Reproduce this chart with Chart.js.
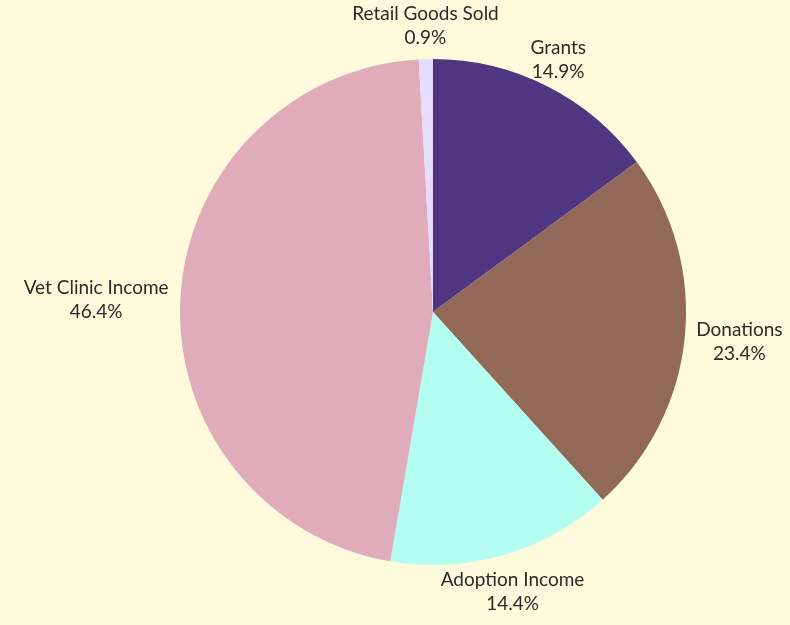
<!DOCTYPE html>
<html lang="en">
<head>
    <meta charset="UTF-8">
    <title>Income Sources</title>
    <script src="https://cdn.jsdelivr.net/npm/chart.js"></script>
    <style>
        html, body { margin: 0; padding: 0; background: #fffadc; }
        #wrap { width: 790px; height: 625px; }
    </style>
</head>
<body>
    <div id="wrap"><canvas id="incomeChart"></canvas></div>

    <script>
        const categories = ['Grants', 'Donations', 'Adoption Income', 'Vet Clinic Income', 'Retail Goods Sold'];
        const shares = [14.9, 23.4, 14.4, 46.4, 0.9];
        const sliceColors = ['#4e3681', '#926958', '#b3fef0', '#e0abbb', '#e6dcfd'];

        // draw "label + percent" outside each slice
        const outsideLabels = {
            id: 'outsideLabels',
            afterDatasetsDraw(chart) {
                const ctx = chart.ctx;
                const arcs = chart.getDatasetMeta(0).data;
                const total = shares.reduce((a, b) => a + b, 0);
                ctx.save();
                ctx.font = '19px Lato';
                ctx.fillStyle = '#2a2a2a';
                ctx.textAlign = 'center';
                ctx.textBaseline = 'middle';
                const lineH = 24;
                arcs.forEach((arc, i) => {
                    const mid = (arc.startAngle + arc.endAngle) / 2;
                    const lines = [categories[i], (shares[i] / total * 100).toFixed(1) + '%'];
                    const w = Math.max(...lines.map(t => ctx.measureText(t).width));
                    const h = lineH * 2;
                    const r = arc.outerRadius + 12;
                    const cx = arc.x + Math.cos(mid) * (r + w / 2 * Math.abs(Math.cos(mid)));
                    const cy = arc.y + 3 + Math.sin(mid) * (r + h / 2 * Math.abs(Math.sin(mid)));
                    ctx.fillText(lines[0], cx, cy - lineH / 2);
                    ctx.fillText(lines[1], cx, cy + lineH / 2);
                });
                ctx.restore();
            }
        };

        new Chart(document.getElementById('incomeChart'), {
            type: 'pie',
            data: {
                labels: categories,
                datasets: [{
                    data: shares,
                    backgroundColor: sliceColors,
                    borderWidth: 0
                }]
            },
            options: {
                responsive: true,
                maintainAspectRatio: false,
                animation: false,
                layout: { padding: { left: 180, right: 104, top: 59, bottom: 60 } },
                plugins: {
                    legend: { display: false },
                    tooltip: { enabled: false }
                }
            },
            plugins: [outsideLabels]
        });
    </script>
</body>
</html>
